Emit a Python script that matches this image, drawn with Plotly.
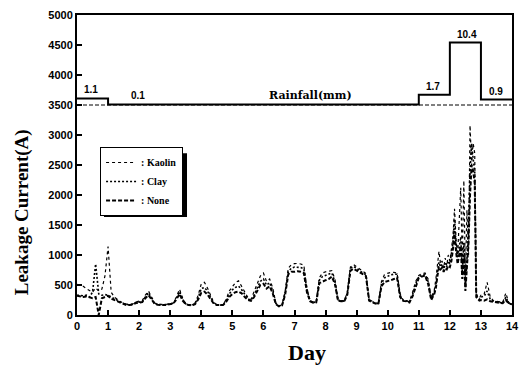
import numpy as np
import plotly.graph_objects as go

# ---------------- data ----------------
# sampling days: 0.1-day steps, 0.05-day steps during the heavy-rain burst
day = np.round(np.concatenate([
    np.arange(0, 11.45, 0.1),
    np.arange(11.5, 12.97, 0.05),
    np.arange(13.0, 14.01, 0.1)]), 3)

kaolin = [
    510, 500, 480, 440, 410, 380, 450, 400, 430, 650,      # day 0
    1140, 380, 300, 260, 220, 200, 180, 175, 185, 220,     # day 1
    230, 240, 330, 400, 300, 200, 180, 175, 175, 180,      # day 2
    185, 200, 300, 430, 280, 190, 170, 170, 200, 330,      # day 3
    520, 545, 450, 320, 210, 170, 165, 175, 260, 400,      # day 4
    480, 540, 570, 480, 380, 290, 260, 380, 520, 650,      # day 5
    700, 560, 600, 450, 200, 150, 170, 400, 780, 840,      # day 6
    855, 860, 850, 830, 450, 240, 215, 220, 620, 700,      # day 7
    720, 735, 740, 600, 250, 240, 235, 380, 800, 840,      # day 8
    800, 770, 720, 690, 260, 230, 200, 195, 560, 680,      # day 9
    700, 710, 710, 700, 350, 245, 240, 220, 380, 560,      # day 10
    660, 690, 700, 600, 280,                               # 11.0-11.4
    420, 600, 850, 1060, 850, 900, 780, 950, 820, 1000,    # 11.50-11.95
    900, 1100, 1300, 1770, 1250, 1000, 1500, 2120, 900, 2240,  # 12.00-12.45
    600, 1750, 1000, 3160, 2500, 2860, 2700, 360, 300, 280,    # 12.50-12.95
    330, 340, 545, 300, 240, 230, 220, 210, 365, 200, 190,     # 13.0-14.0
]
clay = [
    330, 320, 320, 330, 300, 380, 850, 350, 330, 340,
    330, 300, 270, 240, 210, 190, 175, 170, 180, 210,
    215, 225, 300, 370, 280, 190, 175, 170, 170, 175,
    180, 195, 280, 390, 260, 185, 165, 165, 190, 290,
    440, 460, 400, 290, 200, 168, 162, 170, 240, 350,
    420, 460, 480, 420, 340, 270, 245, 330, 450, 560,
    600, 500, 540, 400, 190, 150, 165, 370, 720, 780,
    800, 800, 790, 770, 420, 235, 210, 215, 580, 640,
    660, 680, 700, 560, 245, 235, 230, 360, 780, 810,
    780, 740, 700, 670, 250, 225, 195, 190, 520, 620,
    650, 670, 680, 680, 320, 240, 235, 215, 340, 520,
    640, 660, 680, 560, 260,
    380, 500, 700, 880, 800, 850, 740, 860, 800, 900,
    850, 1000, 1200, 1600, 1150, 950, 1100, 1300, 700, 1200,
    450, 900, 1400, 2400, 2860, 2600, 2400, 330, 280, 260,
    300, 310, 400, 260, 230, 220, 210, 200, 300, 195, 185,
]
none = [
    320, 310, 300, 310, 290, 280, 300, 0, 280, 300,
    320, 270, 250, 220, 200, 180, 165, 165, 175, 200,
    205, 215, 280, 330, 260, 185, 170, 165, 165, 170,
    175, 190, 260, 350, 240, 180, 165, 160, 180, 260,
    370, 390, 340, 260, 190, 165, 160, 165, 220, 300,
    350, 380, 390, 360, 300, 250, 235, 300, 400, 500,
    520, 440, 480, 360, 180, 145, 160, 340, 680, 720,
    720, 730, 720, 700, 380, 230, 205, 210, 530, 560,
    580, 600, 640, 520, 240, 230, 225, 340, 740, 770,
    740, 710, 680, 650, 240, 220, 190, 185, 480, 550,
    560, 580, 600, 620, 300, 235, 230, 210, 310, 480,
    620, 640, 660, 520, 250,
    350, 450, 650, 800, 760, 790, 720, 780, 760, 820,
    800, 900, 1100, 1400, 1050, 850, 1000, 1150, 600, 1000,
    400, 800, 1200, 2000, 2500, 2400, 2200, 300, 260, 240,
    250, 240, 260, 230, 220, 210, 200, 195, 250, 190, 180,
]
assert len(day) == len(kaolin) == len(clay) == len(none), (len(day), len(kaolin), len(clay), len(none))

rain_day = [0, 1, 11, 12, 13, 14]
rain_mm = [1.1, 0.1, 1.7, 10.4, 0.9, 0.9]
rain_label_text = ["1.1", "0.1", "1.7", "10.4", "0.9"]
rain_label_day = [0.45, 1.95, 11.47, 12.55, 13.48]

x_ticks = list(range(0, 15))
y_ticks = list(range(0, 5001, 500))

# ---------------- figure ----------------
fig = go.Figure()

fig.add_trace(go.Scatter(x=day, y=kaolin, mode="lines", name=": Kaolin",
                         line=dict(color="black", width=1.2, dash="dot")))
fig.add_trace(go.Scatter(x=day, y=clay, mode="lines", name=": Clay",
                         line=dict(color="black", width=1.6, dash="2px,2px")))
fig.add_trace(go.Scatter(x=day, y=none, mode="lines", name=": None",
                         line=dict(color="black", width=2, dash="4px,2px")))

# rainfall step on hidden secondary axis (mm)
fig.add_trace(go.Scatter(x=[rain_day[0], rain_day[-1]], y=[0, 0], yaxis="y2",
                         mode="lines", showlegend=False, hoverinfo="skip",
                         line=dict(color="black", width=1, dash="4px,2px")))
fig.add_trace(go.Scatter(x=rain_day, y=rain_mm, yaxis="y2", mode="lines",
                         line_shape="hv", showlegend=False,
                         line=dict(color="black", width=2)))

annotations = []
for d, txt, v in zip(rain_label_day, rain_label_text, rain_mm):
    annotations.append(dict(x=d, y=v, xref="x", yref="y2", text=txt, showarrow=False,
                            yanchor="bottom", yshift=1,
                            font=dict(family="Liberation Sans", size=10, color="black", weight="bold")))
annotations.append(dict(x=7.5, y=0, xref="x", yref="y2", text="Rainfall(mm)", showarrow=False,
                        yanchor="bottom", yshift=1,
                        font=dict(family="DejaVu Serif", size=11, color="black", weight="bold")))
annotations.append(dict(x=-0.126, y=0.343, xref="paper", yref="paper", text="Leakage Current(A)",
                        showarrow=False, textangle=-90, xanchor="center", yanchor="middle",
                        font=dict(family="Liberation Serif", size=19, color="black", weight="bold")))
annotations.append(dict(x=0.5276, y=-0.124, xref="paper", yref="paper", text="Day",
                        showarrow=False, xanchor="center", yanchor="middle",
                        font=dict(family="Liberation Serif", size=22, color="black", weight="bold")))

tickfont = dict(family="Liberation Sans", size=11, color="black", weight="bold")

# drop shadow behind the legend box
shapes = [dict(type="rect", xref="paper", yref="paper", layer="above",
               x0=0.062, x1=0.2529, y0=0.3268, y1=0.539,
               fillcolor="black", line=dict(width=0))]

fig.update_layout(
    width=528, height=366,
    margin=dict(l=77, r=16, t=9, b=51),
    paper_bgcolor="white", plot_bgcolor="white",
    showlegend=True,
    legend=dict(x=0.053, y=0.56, xanchor="left", yanchor="top",
                bgcolor="white", bordercolor="black", borderwidth=1,
                font=dict(family="Liberation Serif", size=10, color="black", weight="bold"),
                itemwidth=30, tracegroupgap=0),
    xaxis=dict(range=[0, 14], tickvals=x_ticks, ticks="inside", ticklen=5, tickwidth=1.5,
               tickcolor="black", showline=True, linecolor="black", linewidth=2, mirror=True,
               showgrid=False, zeroline=False, tickfont=tickfont),
    yaxis=dict(range=[0, 5000], tickvals=y_ticks, ticks="inside", ticklen=5, tickwidth=1.5,
               tickcolor="black", showline=True, linecolor="black", linewidth=2, mirror=True,
               showgrid=False, zeroline=False, tickfont=tickfont),
    yaxis2=dict(overlaying="y", range=[-35, 15], showgrid=False, zeroline=False,
                showline=False, showticklabels=False, ticks=""),
    shapes=shapes,
    annotations=annotations,
)

fig.write_html("out.html")
